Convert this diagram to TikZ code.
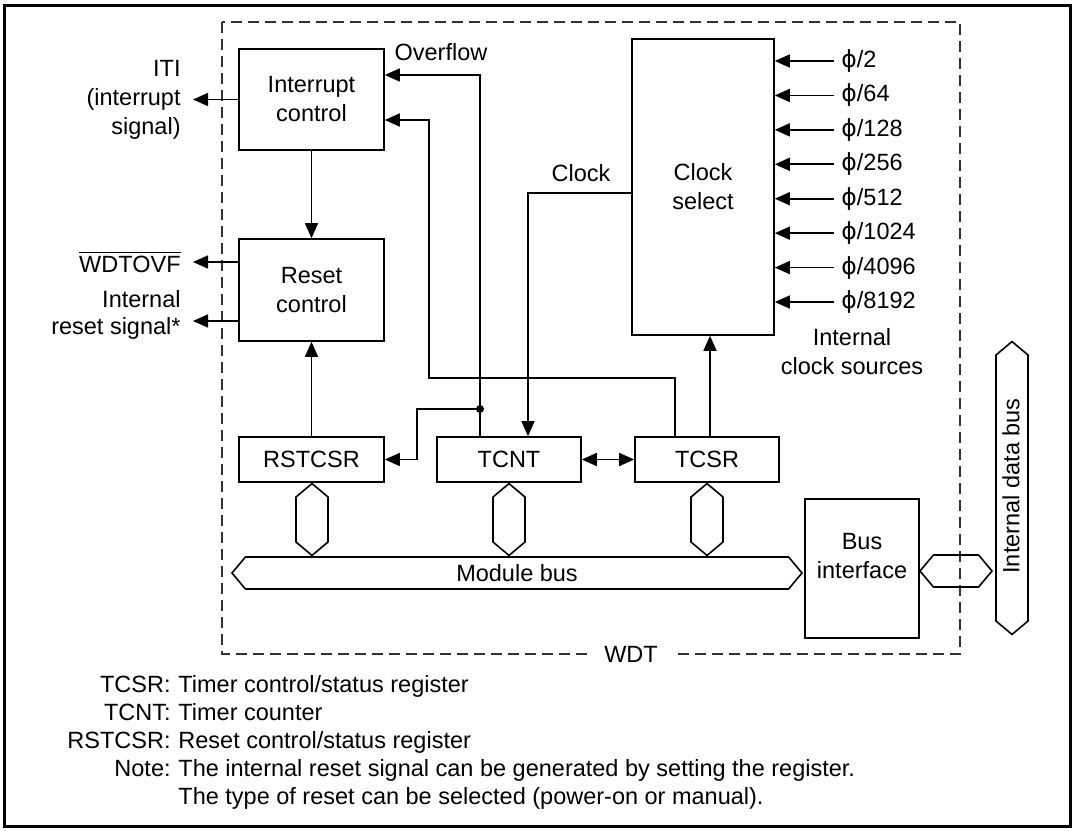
\documentclass[tikz,border=0pt]{standalone}
\usepackage{fontspec}
\setmainfont{Liberation Sans}
\newfontfamily\phifont{DejaVu Sans}
\usetikzlibrary{arrows.meta,shapes.symbols}

\tikzset{
  blk/.style={draw, line width=0.8pt, inner sep=0pt, align=center},
  bushex/.style={draw, line width=0.8pt, signal, signal pointer angle=100, inner sep=0pt},
  lbl/.style={inner sep=0pt, align=center},
  sig/.style={line width=0.8pt, -{Triangle[length=7.5pt,width=6.5pt]}},
  sigboth/.style={line width=0.8pt, {Triangle[length=7.5pt,width=6.5pt]}-{Triangle[length=7.5pt,width=6.5pt]}},
}

\begin{document}
\begin{tikzpicture}[x=0.5pt, y=-0.5pt, font=\fontsize{11.75}{14.5}\selectfont]
  \useasboundingbox (0,0) rectangle (1075,830);
  \draw[line width=1.5pt] (4,5) rectangle (1070,826);
  % WDT outline
  \draw[line width=0.8pt, black!80, dash pattern=on 5.5pt off 3pt] (222,22) rectangle (960,654);
  \node[fill=white, inner xsep=8pt, inner ysep=2pt] (wdt) at (631,654) {WDT};

  % blocks
  \node[blk, minimum width=72.5pt, minimum height=50.5pt] (intc) at (311.5,99.5) {Interrupt\\control};
  \node[blk, minimum width=72.5pt, minimum height=51pt] (rstc) at (311.5,290) {Reset\\control};
  \node[blk, minimum width=71pt, minimum height=148pt] (clks) at (703,187) {Clock\\select};
  \node[blk, minimum width=72.5pt, minimum height=22.5pt] (rstcsr) at (311.5,459.5) {RSTCSR};
  \node[blk, minimum width=72pt, minimum height=22.5pt] (tcnt) at (509,459.5) {TCNT};
  \node[blk, minimum width=72pt, minimum height=22.5pt] (tcsr) at (707,459.5) {TCSR};
  \node[blk, minimum width=57pt, minimum height=69.5pt] (busif) at (862,568.5) {Bus\\interface\\[-2pt]};

  % buses
  \node[bushex, signal to=east and west, minimum width=285pt, minimum height=16pt] (mbus) at (517,573) {Module bus};
  \node[bushex, signal to=north and south, minimum width=16pt, minimum height=22.5pt] (hxa) at (312,519.5) {};
  \node[bushex, signal to=north and south, minimum width=16pt, minimum height=22.5pt] (hxb) at (509,519.5) {};
  \node[bushex, signal to=north and south, minimum width=16pt, minimum height=22.5pt] (hxc) at (707,519.5) {};
  \node[bushex, signal to=east and west, minimum width=36pt, minimum height=16pt] (hxd) at (956,571) {};
  \node[bushex, signal to=north and south, minimum width=16pt, minimum height=133pt] (dbus) at (1012,488) {};
  \node[lbl, rotate=90] (dbuslbl) at (1011,486) {Internal data bus};

  % outputs on the left
  \coordinate (iti) at (193,99.5);
  \coordinate (ovfout) at (193,262);
  \coordinate (rstout) at (193,321);
  \draw[sig] (intc.west) -- (iti);
  \draw[sig] (rstc.west |- ovfout) -- (ovfout);
  \draw[sig] (rstc.west |- rstout) -- (rstout);
  \node[lbl, anchor=east, align=right] (itilbl) at (181,99.5) {ITI\\(interrupt\\signal)};
  \node[lbl, anchor=east] (ovflbl) at (181,262) {$\overline{\mbox{WDTOVF}}$};
  \node[lbl, anchor=east, align=right] (rstlbl) at (181,315) {Internal\\[-1.2pt]reset signal*};

  % internal signals
  \draw[sig] (intc) -- (rstc);
  \draw[sig] (rstcsr) -- (rstc);
  \coordinate (ovf) at (480,409);
  \draw[sig] (ovf |- tcnt.north) |- ([yshift=12.25pt]intc.east);
  \fill (ovf) circle (2pt);
  \draw[sig] (ovf) -- (417,409) |- (rstcsr.east);
  \draw[sig] ([xshift=-16pt]tcsr.north) -- (675,378) -- (429,378) |- ([yshift=-10.25pt]intc.east);
  \draw[sig] ([yshift=-3pt]clks.west) -| ([xshift=9.5pt]tcnt.north);
  \draw[sig] ([xshift=1.5pt]tcsr.north) -- ([xshift=1.5pt]tcsr.north |- clks.south);
  \draw[sigboth] (tcnt) -- (tcsr);
  \node[lbl] (ovfl) at (441,52) {Overflow};
  \node[lbl] (clklbl) at (581,173) {Clock};

  % clock sources
  \foreach \f [count=\i] in {2,64,128,256,512,1024,4096,8192} {
    \coordinate (src\i) at (834,{61+34.43*(\i-1)});
    \draw[sig] (src\i) -- (src\i -| clks.east);
    \node[lbl, anchor=west] (f\i) at (841,{61+34.43*(\i-1)}) {{\phifont ϕ}/\f};
  }
  \node[lbl] (srclbl) at (852,352) {Internal\\clock sources};

  % notes
  \node[lbl, anchor=base east] (k1) at (171,692) {TCSR:};
  \node[lbl, anchor=base west] (v1) at (178,692) {Timer control/status register};
  \node[lbl, anchor=base east] (k2) at (171,720) {TCNT:};
  \node[lbl, anchor=base west] (v2) at (178,720) {Timer counter};
  \node[lbl, anchor=base east] (k3) at (171,748) {RSTCSR:};
  \node[lbl, anchor=base west] (v3) at (178,748) {Reset control/status register};
  \node[lbl, anchor=base east] (k4) at (171,776) {Note:};
  \node[lbl, anchor=base west] (v4) at (178,776) {The internal reset signal can be generated by setting the register.};
  \node[lbl, anchor=base west] (v5) at (178,804) {The type of reset can be selected (power-on or manual).};
\end{tikzpicture}
\end{document}
